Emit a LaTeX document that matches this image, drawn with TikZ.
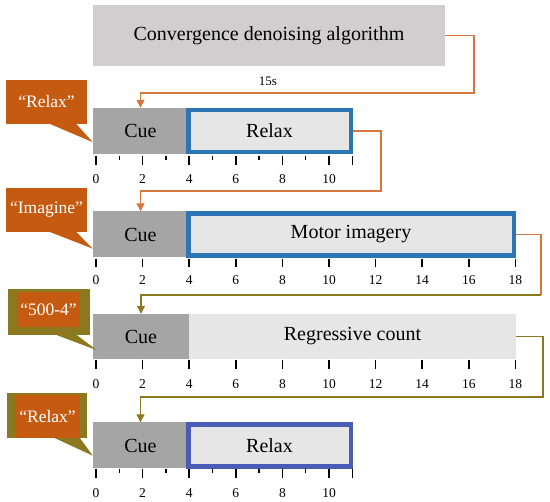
\documentclass[tikz,border=0pt]{standalone}
\usepackage{fontspec}
\setmainfont{Liberation Serif}
\usetikzlibrary{arrows.meta, calc}
\definecolor{titlegray}{RGB}{208,206,206}
\definecolor{cuegray}{RGB}{166,165,165}
\definecolor{taskgray}{RGB}{231,230,230}
\definecolor{phaseblue}{RGB}{46,117,182}
\definecolor{phaseindigo}{RGB}{74,92,181}
\definecolor{sayorange}{RGB}{197,90,17}
\definecolor{linkorange}{RGB}{214,120,62}
\definecolor{linkolive}{RGB}{140,120,30}

\begin{document}
\begin{tikzpicture}[x=1pt, y=-1pt,
        headbox/.style={rectangle, fill=titlegray, minimum width=352pt, minimum height=61pt, inner sep=0pt, font=\fontsize{20}{24}\selectfont},
        cuebox/.style={rectangle, fill=cuegray, minimum width=95pt, minimum height=46pt, inner sep=0pt, font=\fontsize{20}{24}\selectfont},
        phasebox/.style={rectangle, fill=taskgray, draw=phaseblue, line width=4.5pt, minimum height=42pt, inner sep=0pt, font=\fontsize{20}{24}\selectfont},
        saybox/.style={rectangle, fill=sayorange, text=white, minimum width=81pt, minimum height=44pt, inner sep=0pt, font=\fontsize{17.5}{20}\selectfont},
        linkline/.style={linkorange, line width=1.2pt, -{Triangle[width=8pt, length=8pt]}},
        tickline/.style={line width=1.5pt},
        ticklabel/.style={font=\fontsize{13.5}{15}\selectfont}
      ]
        \useasboundingbox (0,0) rectangle (550,502);

        \node[headbox] (algo) at (269,35.5) {Convergence denoising algorithm};

        \node[cuebox] (cue1) at (140.5,131) {Cue};
        \node[phasebox, minimum width=162.5pt] (relax1) at (269.5,131) {Relax};
        \node[cuebox] (cue2) at (140.5,234.5) {Cue};
        \node[phasebox, minimum width=325.5pt] (motor2) at (351,234.5) {Motor imagery};
        \node[cuebox, minimum width=96pt, minimum height=45pt] (cue3) at (141,336.5) {Cue};
        \node[cuebox, fill=taskgray, minimum width=327pt, minimum height=45pt] (count3) at (352.5,336.5) {Regressive count};
        \node[cuebox] (cue4) at (140.5,445.5) {Cue};
        \node[phasebox, draw=phaseindigo, minimum width=162.5pt] (relax4) at (269.5,445.5) {Relax};

        \node[saybox] (say1) at (46.5,102) {“Relax”};
        \node[saybox] (say2) at (46.5,210) {“Imagine”};
        \fill[linkolive] (8,289) rectangle (90,335);
        \node[saybox, minimum width=63pt, minimum height=35pt] (say3) at (48.5,309.5) {“500-4”};
        \fill[linkolive] (7,393) rectangle (87,438);
        \node[saybox, minimum width=65pt, minimum height=43pt] (say4) at (47.5,416.5) {“Relax”};

        \fill[sayorange] ($(say1.south)+(4,0)$) -- ($(say1.south)+(30,0)$) -- ($(cue1.south west)+(0,-12)$) -- cycle;
        \fill[sayorange] ($(say2.south)+(4,0)$) -- ($(say2.south)+(30,0)$) -- ($(cue2.south west)+(0,-9)$) -- cycle;
        \fill[linkolive] ($(say3.south)+(8.5,8)$) -- ($(say3.south)+(28.5,8)$) -- ($(cue3.south west)+(4,-9)$) -- cycle;
        \fill[linkolive] ($(say4.south)+(7.5,0)$) -- ($(say4.south)+(32.5,0)$) -- ($(cue4.south west)+(0,-13)$) -- cycle;

        \coordinate (bend1) at (474,93);
        \coordinate (bend2) at (381,191);
        \coordinate (bend3) at (541,295);
        \coordinate (bend4) at (543,397);

        \draw[linkline] (algo.east) -| (bend1) -| (cue1.north);
        \node[ticklabel, font=\fontsize{13}{15}\selectfont] (delay) at (268,81) {15s};
        \draw[linkline] (relax1.east) -| (bend2) -| (cue2.north);
        \draw[linkline, -] (motor2.east) -| (bend3);
        \draw[linkline, linkolive] (bend3) -| (cue3.north);
        \draw[linkline, linkolive] (count3.east) -| (bend4) -| (cue4.north);

        \foreach \k in {0,2,4,6,8,10,11} \draw[tickline] (96+23.3*\k,156) -- (96+23.3*\k,165);
        \foreach \k in {1,3,...,9} \draw[tickline] (96+23.3*\k,156) -- (96+23.3*\k,160);
        \foreach \k in {0,2,...,10} \node[ticklabel] at (96+23.3*\k,179) {\k};

        \foreach \k in {0,2,...,18} {
          \draw[tickline] (96+23.3*\k,259) -- (96+23.3*\k,267);
          \node[ticklabel] at (96+23.3*\k,280) {\k};
        }

        \foreach \k in {0,2,...,18} {
          \draw[tickline] (96+23.3*\k,360) -- (96+23.3*\k,369);
          \node[ticklabel] at (96+23.3*\k,384) {\k};
        }

        \foreach \k in {0,2,4,6,8,10,11} \draw[tickline] (96+23.3*\k,469) -- (96+23.3*\k,478);
        \foreach \k in {1,3,...,9} \draw[tickline] (96+23.3*\k,469) -- (96+23.3*\k,473);
        \foreach \k in {0,2,...,10} \node[ticklabel] at (96+23.3*\k,493) {\k};
      \end{tikzpicture}
\end{document}
